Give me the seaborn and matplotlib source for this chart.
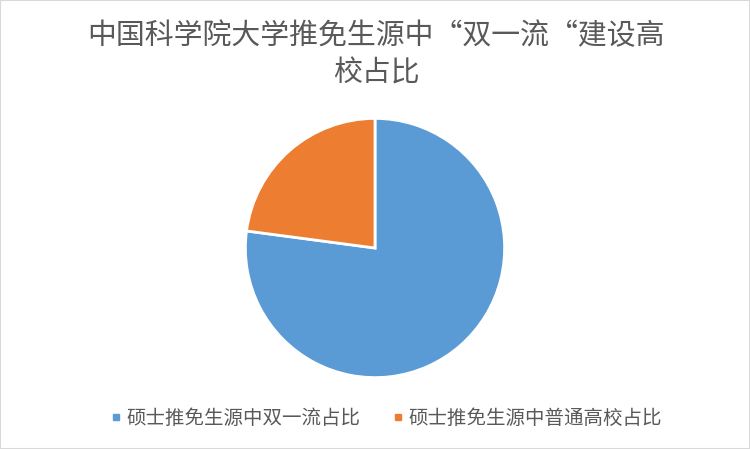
import matplotlib
matplotlib.use('Agg')
import matplotlib.pyplot as plt
from matplotlib.lines import Line2D
from matplotlib.patches import Rectangle
import seaborn as sns

# Data
labels = ['硕士推免生源中双一流占比', '硕士推免生源中普通高校占比']
shares = [77.1, 22.9]
colors = ['#5B9BD5', '#ED7D31']
title = '中国科学院大学推免生源中“双一流“建设高\n校占比'

sns.set_theme(style='white')
plt.rcParams['font.family'] = ['Noto Sans CJK SC', 'DejaVu Sans']

fig = plt.figure(figsize=(7.5, 4.49), dpi=100)
fig.patch.set_facecolor('white')

# pie axes placed so radius is ~130px, centre at (375, 248)
ax = fig.add_axes([245 / 750, (449 - 378) / 449, 260 / 750, 260 / 449])
ax.pie(shares, colors=colors, startangle=90, counterclock=False,
       wedgeprops={'edgecolor': 'white', 'linewidth': 2})
ax.set_xlim(-1.003, 1.003)
ax.set_ylim(-1.003, 1.003)
ax.set_aspect('equal')
ax.axis('off')

fig.text(376 / 750, 1 - 55 / 449, title, ha='center', va='center',
         fontsize=20.8, color='#595959', linespacing=1.33)

handles = [Line2D([0], [0], marker='s', linestyle='none', markersize=5,
                  markerfacecolor=c, markeredgecolor=c) for c in colors]
fig.legend(handles, labels, loc='center', bbox_to_anchor=(387 / 750, 1 - 418 / 449),
           ncol=2, frameon=False, fontsize=14, handletextpad=0.35,
           columnspacing=1.75, handlelength=0.4, labelcolor='#595959')

# light frame around the chart
fig.patches.append(Rectangle((0, 0), 1, 1, transform=fig.transFigure,
                             fill=False, edgecolor='#D9D9D9', linewidth=1.5))

fig.savefig('out.png', dpi=100)
